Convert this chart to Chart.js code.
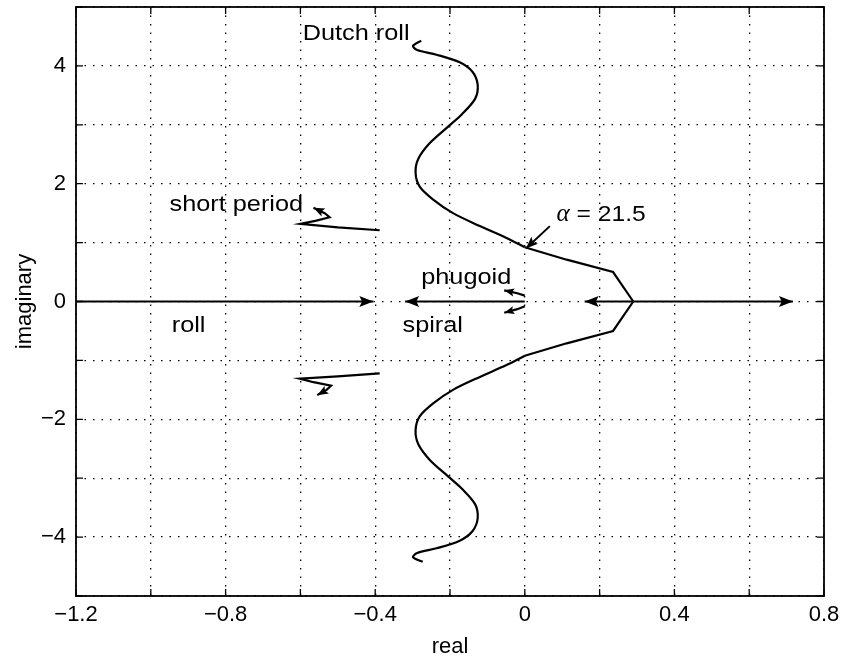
<!DOCTYPE html>
<html>
<head>
<meta charset="utf-8">
<script src="https://cdn.jsdelivr.net/npm/chart.js@4.4.0/dist/chart.umd.min.js"></script>
<style>
  body { margin: 0; background: #fff; }
</style>
</head>
<body>
<canvas id="locus" width="841" height="658"></canvas>
<script>
// tick labels actually printed on the axes
const xTickLabels = ['−1.2', '−0.8', '−0.4', '0', '0.4', '0.8'];
const yTickLabels = ['−4', '−2', '0', '2', '4'];

// dutch roll branch, upper half (starts at top hook, runs down to the real axis)
const dutchUpX = [-0.277, -0.299, -0.288, -0.236, -0.174, -0.140, -0.126, -0.133, -0.168, -0.205, -0.254, -0.285, -0.292, -0.281, -0.245, -0.192, -0.120, -0.049, 0.0];
const dutchUpY = [4.43, 4.34, 4.27, 4.19, 4.06, 3.90, 3.68, 3.44, 3.18, 2.97, 2.69, 2.42, 2.18, 1.95, 1.73, 1.50, 1.28, 1.08, 0.92];
const dutchUpTailX = [0.0, 0.112, 0.236, 0.29];
const dutchUpTailY = [0.92, 0.71, 0.50, 0.0];
// lower half
const dutchLoX = [-0.273, -0.299, -0.288, -0.236, -0.174, -0.140, -0.126, -0.133, -0.168, -0.205, -0.254, -0.285, -0.292, -0.281, -0.245, -0.192, -0.120, -0.049, 0.0];
const dutchLoY = [-4.42, -4.34, -4.27, -4.19, -4.06, -3.90, -3.68, -3.44, -3.18, -2.97, -2.69, -2.42, -2.18, -1.95, -1.73, -1.50, -1.28, -1.08, -0.92];
const dutchLoTailX = [0.0, 0.112, 0.236, 0.29];
const dutchLoTailY = [-0.92, -0.71, -0.50, 0.0];

// short period
const shortUpX = [-0.388, -0.50, -0.600, -0.560, -0.522, -0.535, -0.565];
const shortUpY = [1.21, 1.26, 1.32, 1.37, 1.43, 1.50, 1.59];
const shortLoX = [-0.388, -0.50, -0.602, -0.565, -0.518, -0.530, -0.555];
const shortLoY = [-1.22, -1.27, -1.31, -1.37, -1.43, -1.50, -1.59];

// phugoid
const phugUpX = [0.0, -0.02, -0.055];
const phugUpY = [0.10, 0.14, 0.19];
const phugLoX = [0.0, -0.02, -0.055];
const phugLoY = [-0.08, -0.13, -0.19];

// real axis branches
const rollX = [-1.2, -0.405];
const spiralX = [0.0, -0.32];
const splitLeftX = [0.29, 0.16];
const splitRightX = [0.29, 0.717];

// pointer to alpha = 21.5
const alphaX = [0.067, 0.003];
const alphaY = [1.28, 0.90];

// annotation texts (anchor = left end of baseline, in data units)
const noteText = ['Dutch roll', 'short period', 'phugoid', 'roll', 'spiral'];
const noteX = [-0.594, -0.950, -0.277, -0.944, -0.327];
const noteY = [4.44, 1.53, 0.305, -0.525, -0.525];

const pts = (xs, ys) => xs.map((x, i) => ({ x: x, y: ys[i] }));
const onAxis = xs => xs.map(x => ({ x: x, y: 0 }));

function line(data, extra) {
    return Object.assign({
        data: data,
        showLine: true,
        borderColor: '#000',
        borderWidth: 2.2,
        pointRadius: 0,
        tension: 0,
        fill: false
    }, extra || {});
}

const datasets = [
    line(pts(dutchUpX, dutchUpY), { tension: 0.3 }),
    line(pts(dutchUpTailX, dutchUpTailY)),
    line(pts(dutchLoX, dutchLoY), { tension: 0.3 }),
    line(pts(dutchLoTailX, dutchLoTailY)),
    line(pts(shortUpX, shortUpY), { arrow: 11 }),
    line(pts(shortLoX, shortLoY), { arrow: 11 }),
    line(pts(phugUpX, phugUpY), { arrow: 10 }),
    line(pts(phugLoX, phugLoY), { arrow: 10 }),
    line(onAxis(rollX), { arrow: 14 }),
    line(onAxis(spiralX), { arrow: 14 }),
    line(onAxis(splitLeftX), { arrow: 14 }),
    line(onAxis(splitRightX), { arrow: 14 }),
    line(pts(alphaX, alphaY), { arrow: 12, borderWidth: 2 })
];

const fmt = v => String(Math.round(v * 10) / 10).replace('-', '−');
const sans = '"Liberation Sans", Arial, sans-serif';

function wideText(ctx, txt, x, y, stretch) {
    ctx.save();
    ctx.translate(x, y);
    ctx.scale(stretch, 1);
    ctx.fillText(txt, 0, 0);
    const w = ctx.measureText(txt).width * stretch;
    ctx.restore();
    return w;
}

const frame = {
    id: 'frame',
    afterDatasetsDraw(chart) {
        const ctx = chart.ctx;
        const a = chart.chartArea;
        const xs = chart.scales.x, ys = chart.scales.y;

        // arrow heads
        chart.data.datasets.forEach((ds, i) => {
            if (!ds.arrow) return;
            const pts = chart.getDatasetMeta(i).data;
            const p1 = pts[pts.length - 2], p2 = pts[pts.length - 1];
            const ang = Math.atan2(p2.y - p1.y, p2.x - p1.x);
            const L = ds.arrow, W = ds.arrow * 0.4;
            ctx.save();
            ctx.translate(p2.x, p2.y);
            ctx.rotate(ang);
            ctx.fillStyle = '#000';
            ctx.beginPath();
            ctx.moveTo(0, 0);
            ctx.lineTo(-L, -W);
            ctx.lineTo(-L * 0.8, 0);
            ctx.lineTo(-L, W);
            ctx.closePath();
            ctx.fill();
            ctx.restore();
        });

        // box and inward ticks
        ctx.save();
        ctx.strokeStyle = '#000';
        ctx.lineWidth = 1.8;
        ctx.strokeRect(a.left, a.top, a.right - a.left, a.bottom - a.top);
        ctx.lineWidth = 1.3;
        ctx.beginPath();
        xs.ticks.forEach(t => {
            const px = xs.getPixelForValue(t.value);
            ctx.moveTo(px, a.bottom); ctx.lineTo(px, a.bottom - 7);
            ctx.moveTo(px, a.top); ctx.lineTo(px, a.top + 7);
        });
        ys.ticks.forEach(t => {
            const py = ys.getPixelForValue(t.value);
            ctx.moveTo(a.left, py); ctx.lineTo(a.left + 7, py);
            ctx.moveTo(a.right, py); ctx.lineTo(a.right - 7, py);
        });
        ctx.stroke();

        // text notes
        ctx.fillStyle = '#000';
        ctx.textBaseline = 'alphabetic';
        ctx.textAlign = 'left';
        ctx.font = '22px ' + sans;
        noteText.forEach((txt, i) => {
            wideText(ctx, txt, xs.getPixelForValue(noteX[i]), ys.getPixelForValue(noteY[i]), 1.15);
        });
        // alpha label
        let ax = xs.getPixelForValue(0.085), ay = ys.getPixelForValue(1.36);
        ctx.font = 'italic 25px "Liberation Serif", serif';
        ctx.fillText('α', ax, ay);
        ax += ctx.measureText('α').width;
        ctx.font = '22px ' + sans;
        wideText(ctx, ' = 21.5', ax, ay, 1.12);
        ctx.restore();
    }
};

new Chart(document.getElementById('locus'), {
    type: 'scatter',
    data: { datasets: datasets },
    options: {
        responsive: false,
        animation: false,
        devicePixelRatio: 1,
        layout: { padding: { top: 7, right: 17, left: 0, bottom: 0 } },
        plugins: { legend: { display: false }, tooltip: { enabled: false } },
        scales: {
            x: {
                type: 'linear',
                min: -1.2,
                max: 0.8,
                afterFit(s) { s.height = 62; s.paddingLeft = 0; s.paddingRight = 0; },
                ticks: {
                    stepSize: 0.2,
                    autoSkip: false,
                    maxRotation: 0,
                    padding: 6,
                    color: '#000',
                    font: { family: sans, size: 22 },
                    callback: v => xTickLabels.includes(fmt(v)) ? fmt(v) : ''
                },
                grid: { color: '#000', lineWidth: 1.3, drawTicks: false },
                border: { display: false, dash: [1.5, 7] },
                title: {
                    display: true, text: 'real', color: '#000', padding: 0,
                    font: { family: sans, size: 22, lineHeight: 1 }
                }
            },
            y: {
                type: 'linear',
                min: -5,
                max: 5,
                afterFit(s) { s.width = 76; s.paddingTop = 0; s.paddingBottom = 0; },
                ticks: {
                    stepSize: 1,
                    autoSkip: false,
                    padding: 10,
                    color: '#000',
                    font: { family: sans, size: 22 },
                    callback: v => yTickLabels.includes(fmt(v)) ? fmt(v) : ''
                },
                grid: { color: '#000', lineWidth: 1.3, drawTicks: false },
                border: { display: false, dash: [1.5, 7] },
                title: {
                    display: true, text: 'imaginary', color: '#000', padding: { top: 14 },
                    font: { family: sans, size: 22, lineHeight: 1 }
                }
            }
        }
    },
    plugins: [frame]
});
</script>
</body>
</html>
